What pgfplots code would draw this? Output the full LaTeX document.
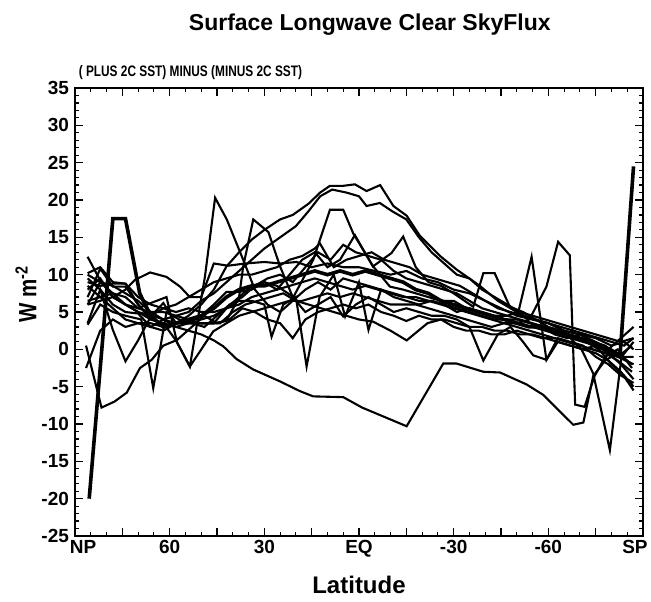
\documentclass[border=0pt]{standalone}
\usepackage{pgfplots}
\pgfplotsset{compat=1.18}
\usepackage{graphicx}
\usepackage{fontspec}
\setmainfont{Liberation Sans}
\tikzset{ln/.style={black, solid, line width=1.05pt, mark=none}}
\begin{document}
\begin{tikzpicture}[x=1pt,y=1pt]
\path[use as bounding box] (0,0) rectangle (325.5,300.5);
\begin{axis}[
  at={(37.5pt,32.5pt)}, anchor=south west,
  scale only axis, width=284pt, height=224pt,
  xmin=-90, xmax=90, x dir=reverse,
  ymin=-25, ymax=35,
  xtick={90,75,...,-90},
  xticklabels={\hspace*{8pt}NP,,60,,30,,EQ,,-30,,-60,,SP\hspace*{8pt}},
  minor x tick num=2,
  ytick={-25,-20,...,35},
  yticklabels={-25,-20,-15,-10,-5,0,5,10,15,20,25,30,35},
  minor y tick num=4,
  tick align=inside,
  major tick length=4pt, minor tick length=2pt,
  every tick/.style={black, line width=0.6pt},
  axis line style={line width=1pt},
  tick label style={font=\fontsize{9.5}{10}\selectfont\bfseries},
  xticklabel style={yshift=1.5pt},
  yticklabel style={xshift=0.5pt},
  xlabel={Latitude},
  xlabel style={at={(axis description cs:0.5,0)}, anchor=center, yshift=-24.5pt, font=\fontsize{12}{13}\selectfont\bfseries},
  ylabel={\scalebox{0.82}[1]{W m\textsuperscript{-2}}},
  ylabel style={at={(axis description cs:-0.0863,0.54)}, anchor=center, font=\fontsize{12.5}{13}\selectfont\bfseries},
  title={Surface Longwave Clear SkyFlux},
  title style={at={(axis description cs:0.519,1.114)}, anchor=center, yshift=0pt, font=\fontsize{11.5}{12}\selectfont\bfseries},
  clip mode=individual,
]
\node[anchor=west, inner sep=0pt, font=\fontsize{7.6}{8}\selectfont\bfseries] at (axis description cs:0.006,1.034) {\scalebox{0.78}[1]{( PLUS 2C SST) MINUS (MINUS 2C SST)}};
% L1 thick
\addplot[black, solid, mark=none, line width=1.8pt] coordinates {(85.5,-20) (78,17.5) (74,17.5) (69.5,7.5) (66,4.5) (62,3) (58,3.5) (54,4) (50,4.5) (46,5.5) (42,7) (38,8) (34,8.5) (30,8.5) (26,9) (22,9.5) (18,10) (14,10.5) (10,10) (6,10.5) (2,10) (-2,10.5) (-6,10) (-10,9.5) (-14,9) (-18,8) (-22,7.5) (-26,6.5) (-30,6) (-34,5.5) (-38,5) (-42,4.5) (-46,4) (-50,3.5) (-54,3) (-58,3) (-62,2.5) (-66,2) (-70,1.5) (-74,1) (-78,0) (-82.7,-1) (-87,24.5)};
% L2 long negative
\addplot[ln] coordinates {(86,8.5) (82,7) (78,7.5) (74,6) (70,5) (66,4) (62,3.5) (58,3) (54,2.5) (50,2) (46,1.2) (43,0.4) (38.8,-1.3) (33.5,-2.7) (25,-4.3) (18.7,-5.6) (14.5,-6.3) (5,-6.4) (-1,-7.8) (-15.1,-10.3) (-26.7,-1.9) (-30.9,-1.9) (-39.4,-3) (-44.7,-3.1) (-53.1,-4.7) (-58.4,-6.1) (-67.9,-10.1) (-71.1,-9.8) (-74.2,-3.6) (-78,-1.5) (-82,-0.5) (-86.5,-2)};
% L3 NP dip
\addplot[ln] coordinates {(86.5,0.5) (81.6,-7.8) (77.5,-7) (73.6,-5.8) (69.4,-2.5) (65.7,-1.4) (62,0.5) (58,1.2) (53.6,-2.3) (46.2,2.4) (42,3.5) (38,4.5) (34,5) (30,5.5) (26,6) (22,6.5) (18,6.5) (14,7) (10,7.5) (6,7) (2,7.5) (-2,7) (-6,6.5) (-10,6) (-14,6) (-18,6) (-22,5.5) (-26,5) (-30,4.5) (-34,4) (-38,3.5) (-42,3) (-46,3.5) (-50,3) (-54,2.5) (-58,2) (-62,1.5) (-66,1) (-70,0.5) (-74,0) (-78,-0.5) (-82,-1.5) (-86.5,-3)};
% L4 spike 20 at 45N
\addplot[ln] coordinates {(86,7) (82,10.8) (78,8.4) (74,8.4) (70,6) (66,4) (62,3.5) (58,1.2) (53.6,-2.3) (48.8,9.8) (45.6,20.3) (41.9,17.4) (36.7,12) (33,8) (29,6) (25,5) (21,6.5) (17,8) (13,9) (9,8) (5,9.5) (1,9) (-3,8.5) (-7,8) (-11,7.5) (-15,7) (-19,6.5) (-23,6.5) (-27,6) (-31,5.5) (-35,5) (-39,4.5) (-43,4) (-47,4) (-51,3.5) (-55,3) (-59,2.5) (-63,2) (-67,1.5) (-71,1) (-75,0.5) (-79,-0.5) (-83,-2) (-87,-4)};
% L5 spike 17 at 33N
\addplot[ln] coordinates {(86,9.5) (82,8) (78,6) (74,5) (70,4.8) (66,3) (62,4) (58,3.5) (54,3.8) (50,3.5) (46,3.5) (42,3.8) (38,7) (36.7,11.1) (33.5,17.4) (28.7,15.7) (25,11.1) (21,7) (17,5) (13,6) (9,7) (5,4.4) (1,6) (-3,7) (-7,6) (-11,5) (-15,5.5) (-19,5) (-23,4.5) (-27,4.5) (-31,4) (-35,3) (-39.4,-1.5) (-44,2) (-48,3) (-52,1) (-55.2,-0.8) (-59.4,-1.4) (-63,1) (-67,0.5) (-71,0) (-75,-0.5) (-79,-1.5) (-83,-3) (-87,-5.5)};
% L6 hump A
\addplot[ln] coordinates {(86,6.5) (82,7) (78,5.5) (74,4) (70,3.5) (66,3.5) (62,3) (58,3.5) (54,4.5) (50,6) (46,8) (42,11.1) (38,13) (34,14.7) (30,16) (25,17.4) (21,18) (16,19.5) (12.3,21) (9.2,21.9) (5,21.9) (1.3,22.1) (-2.4,21.2) (-6.7,22) (-10.9,19.2) (-15.1,17.9) (-19.3,15.2) (-25.7,12.5) (-30.9,10.7) (-38.3,8.5) (-44,6.5) (-50,5) (-55,4) (-60,3.5) (-65,2.5) (-70,2) (-75,1.5) (-80,0.5) (-84,1) (-87,0)};
% L7 hump B
\addplot[ln] coordinates {(86,10) (82,9) (78,8.5) (74,7.5) (70,6.5) (66,5) (62,4) (58,4.5) (54,5) (50,6.5) (46,7.5) (42,9) (38,10.5) (34,12) (30,13.5) (25,15) (20,16.5) (16,18.5) (12.3,20.5) (8.5,21.4) (4,21) (0,20.5) (-2.4,19.2) (-6.6,19.6) (-10.5,18.5) (-15,17.4) (-19,15) (-23,13) (-27,11.5) (-31,10) (-35,9.5) (-39,8) (-43,7) (-47,6) (-51,5) (-55,4.5) (-59,4) (-63,3.5) (-67,3) (-71,2.5) (-75,2) (-79,1.5) (-83,1) (-87,1.5)};
% L8 plateau 18.7
\addplot[ln] coordinates {(86,3.5) (82,8) (78,2.6) (74,-1.6) (70,1.2) (66,4.4) (62,6.2) (58,3.5) (54,3.5) (50,3.5) (46,3.5) (42,5.5) (38,7) (34,8.5) (30,9) (26,8.5) (20.8,7) (14.5,12) (9.2,18.7) (5,18.7) (1.8,15.5) (-4.5,11.1) (-9.8,8.4) (-14,8) (-18,7.5) (-22,7) (-26,6.5) (-30,6.5) (-34,5.5) (-38,5) (-42,4.5) (-46,4) (-50,4) (-54,3.5) (-58,3) (-62,2) (-66,1.5) (-70,2) (-74,1) (-78,0.5) (-82,-1) (-87,-2)};
% L9 smooth bump 60N, flat 11.5
\addplot[ln] coordinates {(86,6) (82,6.5) (78,7) (74,8) (71,9.3) (66.2,10.3) (61,9.7) (56.7,8.4) (53.6,7) (50,7) (46,11.5) (41.5,11.2) (36,11.5) (30,11.7) (25,11.5) (19.8,11.7) (15,11) (10,11.5) (5,11) (0,11) (-5,10.5) (-10,10) (-15,10.5) (-20,9.5) (-25,9) (-30,8) (-35,7.5) (-40,6.5) (-45,5.5) (-50,4.5) (-55,4) (-60,3.5) (-65,2.5) (-70,2) (-75,1) (-80,0) (-84,-1) (-87,-1)};
% L10 peaks 15
\addplot[ln] coordinates {(86,9) (82,8.5) (78,8.8) (74,8.8) (70,6) (67.3,4.8) (62,4) (58,3) (54,3.5) (50,4.5) (46,6) (42,7.7) (38,7.7) (34,8) (30,9) (26,8) (22,10) (18,12) (14,13) (10,11) (6,12) (1.3,15.3) (-4.4,11.1) (-10.3,12.9) (-14,15.1) (-18,11) (-22,9) (-26,8.5) (-30,7.5) (-36.2,5.7) (-39.4,10.2) (-43,10.2) (-47.8,5.7) (-52,5) (-56,4) (-60,3) (-64,2.5) (-68,1.5) (-72,1) (-76,0) (-80,-2) (-84,-3.5) (-87,-5)};
% L11 spike -54.7, V dips
\addplot[ln] coordinates {(86,8) (82,9.5) (78,7) (74,6) (70,5) (66,4.5) (62,5.5) (58,5) (54,5.5) (50,5) (46,5) (42,5.5) (38,6.5) (34,6.5) (30,6) (27.7,1.7) (24,6) (20,7) (16.6,-2.3) (12.5,7) (8,10) (4.4,4.4) (0,9) (-3,2.6) (-7,8) (-11,7) (-15,6.5) (-19,6) (-23,6.5) (-27,6) (-31,5) (-35,5.5) (-39,5) (-43,4.5) (-47,4.5) (-50.5,5) (-54.7,12.4) (-59.4,-1.4) (-63,1.5) (-67,1) (-71,0.5) (-75,-1) (-79,-2) (-83,-3.5) (-87,-4.5)};
% L12 spike -63
\addplot[ln] coordinates {(86,6) (82,9) (78,7.5) (74,7) (70,5.5) (66,5) (62,5) (58,4.5) (54,4) (50,4) (46,4.5) (42,5.5) (38,6) (34,7) (30,7.5) (26,8) (22,8.5) (18,9) (14,9.5) (10,9) (6,8.5) (2,8) (-2,8.5) (-6,8) (-10,7.5) (-14,7) (-18,7) (-22,6.5) (-26,6) (-30,5.5) (-34,5) (-38,4.5) (-42,4) (-46,3.5) (-50,3.5) (-54,4) (-59.4,8.4) (-63.1,14.4) (-66.8,12.6) (-68.5,-7.4) (-71.5,-7.7) (-74.5,-3.7) (-78,-1) (-82,0) (-86.5,-2.5)};
% L13 V -13.5, dip -5 at 65N
\addplot[ln] coordinates {(86,3.3) (82,6) (78,5) (74,4.5) (69,4) (65.2,-5.2) (61,5) (57,4) (53,3.5) (49,3) (45,4.5) (41,6) (37,7) (33,8.5) (29,9.5) (25,10) (21,9) (17,11) (13,13) (9,12) (5,14) (1,13) (-3,12.5) (-7,12) (-11,10.5) (-15,9.5) (-19,9) (-23,8.5) (-27,8) (-31,7.5) (-35,6.5) (-39,5.5) (-43,5) (-47,4.5) (-51,4) (-55,3.5) (-59,3) (-63,2) (-67,1.5) (-70.5,0) (-74.2,-3.2) (-79.5,-13.5) (-83.2,-1) (-87,1)};
% L14 NP 12.4 start
\addplot[ln] coordinates {(86,12.4) (82.1,9.3) (78,7) (74,6) (70,5.5) (66,6.2) (61,7) (57.8,1.2) (53,3) (49,4.5) (45,3.5) (41,4) (37,5.5) (33,5) (29,4) (25,3.5) (21,1.5) (17,4) (13,5) (9,5.5) (5,6) (1,5.5) (-3,6) (-7,5) (-11,4.5) (-15,3.8) (-19,4.5) (-23,4) (-27,4) (-31,3.5) (-35,3) (-39,3) (-43,2.5) (-47,2.5) (-51,2) (-55,2) (-59,1.5) (-63,1) (-67,0.5) (-71,0) (-75,0.5) (-79,0) (-83,1.5) (-87,3)};
% L15 low EQ line
\addplot[ln] coordinates {(86.5,-2.5) (82,2.5) (78,4) (74,3) (70,3.5) (66,3) (62,2.5) (57.8,3.5) (52,3.5) (46,3.5) (44,3.5) (40,5) (36,6) (32,6.5) (28,7) (24,7.5) (20,6.5) (16,6) (12,5.5) (8,5) (4,4.5) (0,4) (-4.5,3.7) (-10,2.5) (-15.1,1.2) (-21.7,3.5) (-26,4) (-30,3) (-34,2.5) (-38,2.5) (-42,2) (-46,2) (-50,2.5) (-54,2) (-58,1.5) (-62,1.5) (-66,1) (-70,0.5) (-74,0) (-78,-0.5) (-82,-1) (-86.5,0.5)};
% L16 cluster 10-ish
\addplot[ln] coordinates {(86,10.2) (82,11) (78,9) (74,8.8) (70,7) (66,6) (62,5.5) (58,6) (54,7) (50,8) (46,9) (42,9.5) (38,10) (34,10) (30,10.5) (26,11) (22,12) (18,12.5) (14,13.5) (12.4,14.2) (8,11) (4,12) (0,12.5) (-4,13) (-8,12) (-12,11.5) (-16,11) (-20,10) (-24,9.5) (-28,9) (-32,8.5) (-36,7.5) (-40,6.5) (-44,5.5) (-48,5) (-52,4.5) (-56,4) (-60,3.5) (-64,3) (-68,2.5) (-72,2) (-76,1.5) (-80,1) (-84,0.5) (-87,1.5)};
\end{axis}
\end{tikzpicture}
\end{document}
